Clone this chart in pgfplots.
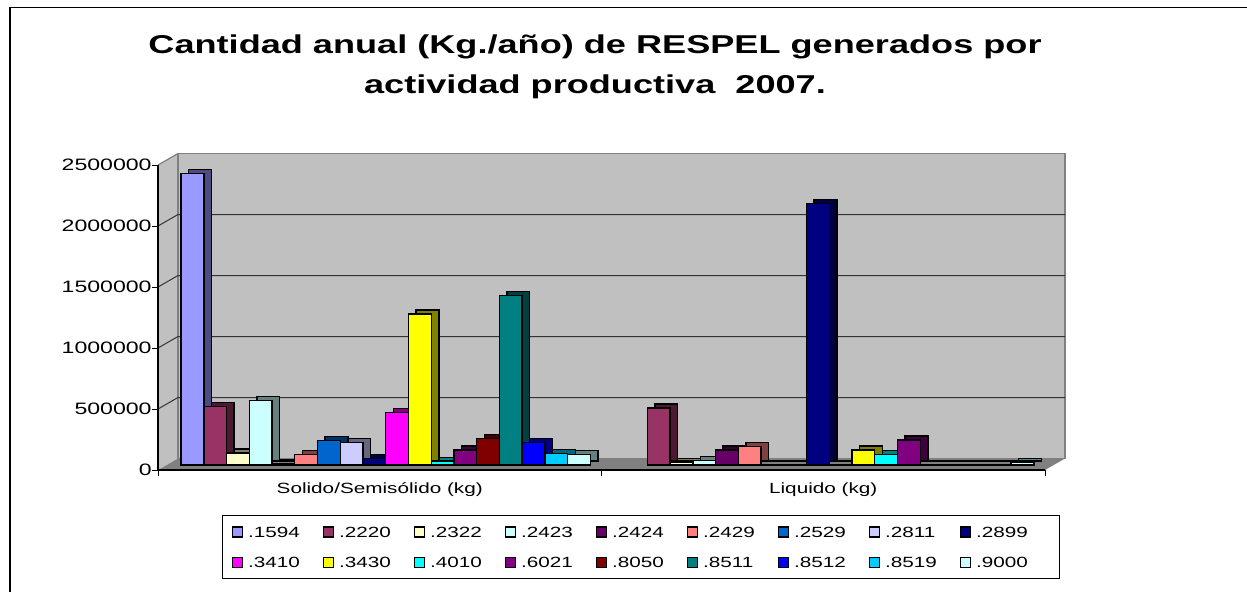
\documentclass[border=0pt]{standalone}
\usepackage{fontspec}
\setmainfont{Liberation Sans}[FakeStretch=1.4]
\usepackage{pgfplots}
\pgfplotsset{compat=1.18}
\usepackage{pgfplotstable}

\definecolor{k1594}{HTML}{9999FF}
\definecolor{k2220}{HTML}{993366}
\definecolor{k2322}{HTML}{FFFFCC}
\definecolor{k2423}{HTML}{CCFFFF}
\definecolor{k2424}{HTML}{660066}
\definecolor{k2429}{HTML}{FF8080}
\definecolor{k2529}{HTML}{0066CC}
\definecolor{k2811}{HTML}{CCCCFF}
\definecolor{k2899}{HTML}{000080}
\definecolor{k3410}{HTML}{FF00FF}
\definecolor{k3430}{HTML}{FFFF00}
\definecolor{k4010}{HTML}{00FFFF}
\definecolor{k6021}{HTML}{800080}
\definecolor{k8050}{HTML}{800000}
\definecolor{k8511}{HTML}{008080}
\definecolor{k8512}{HTML}{0000FF}
\definecolor{k8519}{HTML}{00CCFF}
\definecolor{k9000}{HTML}{CCFFFF}
\definecolor{wallgray}{HTML}{C0C0C0}
\definecolor{floorgray}{HTML}{808080}

\pgfplotstableread{
x c1594 c2220 c2322 c2423 c2424 c2429 c2529 c2811 c2899 c3410 c3430 c4010 c6021 c8050 c8511 c8512 c8519 c9000
0 2390000 480000 100000 528000 8000 88000 200000 183000 55000 430000 1238000 27000 123000 216000 1391000 183000 96000 85000
1 nan 466000 19000 35000 123000 150000 2000 1000 2142000 2000 123000 88000 205000 3000 5000 1000 2000 19000
}\data

\pgfplotsset{
  mybar/.style={ybar, bar width=11.37pt, draw=black, line width=0.7pt,
    legend image code/.code={\draw[##1, line width=0.6pt, xshift=-3pt, yshift=-2.5pt] (0pt,-2.5pt) rectangle (5pt,2.5pt);}},
}
\newcommand\barpair[3]{%
  \addplot[mybar, bar shift=#2, fill=#3!50!black, xshift=6.8pt, yshift=4.5pt, forget plot] table[x=x,y=#1]{\data};
  \addplot[mybar, bar shift=#2, fill=#3, xshift=3pt, yshift=2.5pt] table[x=x,y=#1]{\data};
}
\tikzset{bk/.style={shift={(10pt,5.75pt)}}}

\begin{document}
\begin{tikzpicture}
\useasboundingbox (0,0) rectangle (623.5pt,-295.5pt);
\fill[white] (0,0) rectangle (623.5pt,-295.5pt);
\draw[line width=0.9pt] (5pt,-296pt) -- (5pt,-3.75pt) -- (624pt,-3.75pt);
\node[anchor=base, font=\fontsize{12.9}{14}\selectfont\bfseries] at (297.5pt,-26.5pt) {Cantidad anual (Kg./año) de RESPEL generados por};
\node[anchor=base, font=\fontsize{12.9}{14}\selectfont\bfseries] at (297.5pt,-46.5pt) {actividad productiva\ \ 2007.};
\begin{axis}[
  at={(79pt,-235pt)}, anchor=south west,
  scale only axis, width=443.5pt, height=152.5pt,
  xmin=-0.5, xmax=1.5, ymin=0, ymax=2500000,
  clip=false, axis on top,
  axis x line*=bottom, axis y line*=left,
  axis line style={line width=0.6pt, black, -},
  every outer x axis line/.append style={-},
  every outer y axis line/.append style={-},
  xtick={0,1}, xticklabels={Solido/Semisólido (kg), Liquido (kg)},
  minor xtick={-0.5,0.5,1.5},
  ytick={0,500000,1000000,1500000,2000000,2500000},
  tick align=outside, major tick length=3pt, minor tick length=3pt,
  major x tick style={draw=none},
  minor x tick style={draw=black, line width=0.5pt},
  y tick style={draw=black, line width=0.5pt},
  scaled y ticks=false,
  yticklabel style={/pgf/number format/fixed, /pgf/number format/1000 sep={}, /pgf/number format/assume math mode=true, anchor=east, inner sep=0pt, font=\fontsize{8.25}{9}\selectfont},
  xticklabel style={font=\fontsize{7.4}{8}\selectfont},
  legend columns=9,
  legend cell align=left,
  legend style={at={(0.545,-0.2525)}, anchor=center, draw=black, line width=0.5pt, fill=white,
    font=\fontsize{7.4}{8}\selectfont, inner xsep=4.5pt, inner ysep=5.25pt, row sep=9.5pt, column sep=0pt,
    nodes={inner sep=0pt, text width=37.4pt, align=left, text height=5.5pt, text depth=0pt}},
  /tikz/every odd column/.append style={column sep=2.5pt},
  legend entries={.1594,.2220,.2322,.2423,.2424,.2429,.2529,.2811,.2899,.3410,.3430,.4010,.6021,.8050,.8511,.8512,.8519,.9000},
]
\fill[wallgray] (rel axis cs:0,0) -- ([bk]rel axis cs:0,0) -- ([bk]rel axis cs:0,1) -- (rel axis cs:0,1) -- cycle;
\filldraw[fill=wallgray, draw=floorgray, line width=0.6pt] ([bk]rel axis cs:0,0) rectangle ([bk]rel axis cs:1,1);
\draw[floorgray, line width=0.6pt] (rel axis cs:0,1) -- ([bk]rel axis cs:0,1);
\fill[floorgray] (rel axis cs:0,0) -- ([bk]rel axis cs:0,0) -- ([bk]rel axis cs:1,0) -- (rel axis cs:1,0) -- cycle;
\draw[black!80, line width=0.5pt] (axis cs:-0.5,500000) -- ([bk]axis cs:-0.5,500000) -- ([bk]axis cs:1.5,500000);
\draw[black!80, line width=0.5pt] (axis cs:-0.5,1000000) -- ([bk]axis cs:-0.5,1000000) -- ([bk]axis cs:1.5,1000000);
\draw[black!80, line width=0.5pt] (axis cs:-0.5,1500000) -- ([bk]axis cs:-0.5,1500000) -- ([bk]axis cs:1.5,1500000);
\draw[black!80, line width=0.5pt] (axis cs:-0.5,2000000) -- ([bk]axis cs:-0.5,2000000) -- ([bk]axis cs:1.5,2000000);
\barpair{c1594}{-96.645pt}{k1594}
\barpair{c2220}{-85.275pt}{k2220}
\barpair{c2322}{-73.905pt}{k2322}
\barpair{c2423}{-62.535pt}{k2423}
\barpair{c2424}{-51.165pt}{k2424}
\barpair{c2429}{-39.795pt}{k2429}
\barpair{c2529}{-28.425pt}{k2529}
\barpair{c2811}{-17.055pt}{k2811}
\barpair{c2899}{-5.685pt}{k2899}
\barpair{c3410}{5.685pt}{k3410}
\barpair{c3430}{17.055pt}{k3430}
\barpair{c4010}{28.425pt}{k4010}
\barpair{c6021}{39.795pt}{k6021}
\barpair{c8050}{51.165pt}{k8050}
\barpair{c8511}{62.535pt}{k8511}
\barpair{c8512}{73.905pt}{k8512}
\barpair{c8519}{85.275pt}{k8519}
\barpair{c9000}{96.645pt}{k9000}
\end{axis}
\end{tikzpicture}
\end{document}
